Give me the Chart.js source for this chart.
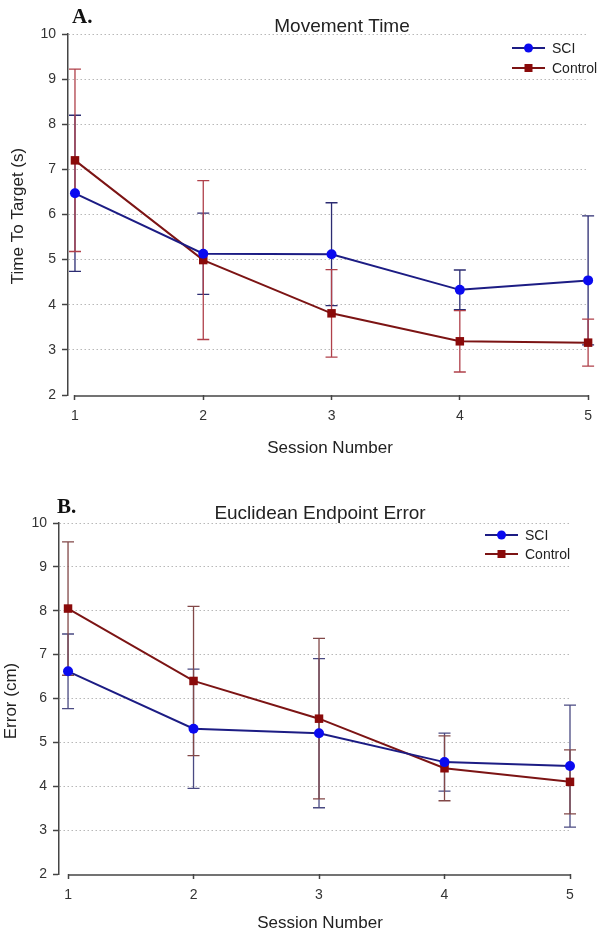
<!DOCTYPE html>
<html>
<head>
<meta charset="utf-8">
<script src="https://cdn.jsdelivr.net/npm/chart.js@4"></script>
<style>
  html, body { margin: 0; padding: 0; background: #fff; }
  #wrapA { position: absolute; left: 0; top: 0; width: 600px; height: 466px; }
  #wrapB { position: absolute; left: 0; top: 466px; width: 600px; height: 467px; }
</style>
</head>
<body>
<div id="wrapA"><canvas id="chartA" width="600" height="466"></canvas></div>
<div id="wrapB"><canvas id="chartB" width="600" height="467"></canvas></div>
<script>
// ---- data ----
const sessions = [1, 2, 3, 4, 5];
const yTickValues = [2, 3, 4, 5, 6, 7, 8, 9, 10];
const seriesNames = ['SCI', 'Control'];

// A. Movement Time (s): mean and error (±)
const timeSCI = [6.47, 5.13, 5.12, 4.33, 4.54];
const timeSCIErr = [1.73, 0.90, 1.14, 0.44, 1.43];
const timeCtrl = [7.20, 4.99, 3.81, 3.19, 3.16];
const timeCtrlErr = [2.02, 1.76, 0.97, 0.68, 0.52];

// B. Euclidean Endpoint Error (cm): mean and error (±)
const errSCI = [6.62, 5.31, 5.21, 4.55, 4.46];
const errSCIErr = [0.85, 1.36, 1.70, 0.66, 1.39];
const errCtrl = [8.05, 6.40, 5.54, 4.41, 4.10];
const errCtrlErr = [1.52, 1.70, 1.83, 0.74, 0.73];

const FONT = '"Liberation Sans", Arial, Helvetica, sans-serif';

function toPoints(vals) { return sessions.map((s, i) => ({ x: s, y: vals[i] })); }

function makeChart(canvasId, cfg) {
  const errorBarPlugin = {
    id: 'errbars',
    beforeDatasetsDraw(chart) {
      const ctx = chart.ctx, xs = chart.scales.x, ys = chart.scales.y;
      ctx.save();
      cfg.errors.forEach((e, di) => {
        ctx.strokeStyle = cfg.errColors[di];
        ctx.lineWidth = 1.3;
        e.mean.forEach((m, i) => {
          const px = xs.getPixelForValue(sessions[i]);
          const yt = ys.getPixelForValue(m + e.err[i]);
          const yb = ys.getPixelForValue(m - e.err[i]);
          ctx.beginPath();
          ctx.moveTo(px, yt); ctx.lineTo(px, yb);
          ctx.moveTo(px - 6, yt); ctx.lineTo(px + 6, yt);
          ctx.moveTo(px - 6, yb); ctx.lineTo(px + 6, yb);
          ctx.stroke();
        });
      });
      ctx.restore();
    },
    afterDraw(chart) {
      const ctx = chart.ctx, xs = chart.scales.x;
      ctx.save();
      // x axis line (detached from y axis, starting at first session)
      ctx.strokeStyle = '#444';
      ctx.lineWidth = 1.5;
      ctx.beginPath();
      const ay = chart.chartArea.bottom + 1;
      ctx.moveTo(xs.getPixelForValue(sessions[0]), ay);
      ctx.lineTo(xs.getPixelForValue(sessions[sessions.length - 1]), ay);
      ctx.stroke();

      // panel letter
      ctx.fillStyle = '#111';
      ctx.textAlign = 'left';
      ctx.textBaseline = 'alphabetic';
      ctx.font = 'bold 21px "Liberation Serif", "Times New Roman", serif';
      ctx.fillText(cfg.letter, cfg.letterPos[0], cfg.letterPos[1]);

      // title
      ctx.fillStyle = '#222';
      ctx.font = '19px ' + FONT;
      ctx.textAlign = 'center';
      ctx.fillText(cfg.title, cfg.titlePos[0], cfg.titlePos[1]);

      // x axis title
      ctx.font = '17px ' + FONT;
      ctx.fillText(cfg.xTitle, cfg.xTitlePos[0], cfg.xTitlePos[1]);

      // y axis title
      ctx.save();
      ctx.translate(cfg.yTitlePos[0], cfg.yTitlePos[1]);
      ctx.rotate(-Math.PI / 2);
      ctx.textBaseline = 'middle';
      ctx.font = '17px ' + FONT;
      ctx.fillText(cfg.yTitle, 0, 0);
      ctx.restore();

      // legend
      const L = cfg.legend;
      chart.data.datasets.forEach((ds, di) => {
        const ly = L.y[di];
        ctx.strokeStyle = ds.borderColor;
        ctx.lineWidth = 2;
        ctx.beginPath();
        ctx.moveTo(L.x0, ly); ctx.lineTo(L.x1, ly);
        ctx.stroke();
        ctx.fillStyle = ds.pointBackgroundColor;
        const mx = (L.x0 + L.x1) / 2;
        if (ds.pointStyle === 'rect') {
          ctx.fillRect(mx - 4, ly - 4, 8, 8);
        } else {
          ctx.beginPath(); ctx.arc(mx, ly, 4.5, 0, Math.PI * 2); ctx.fill();
        }
        ctx.fillStyle = '#222';
        ctx.font = '14px ' + FONT;
        ctx.textAlign = 'left';
        ctx.textBaseline = 'middle';
        ctx.fillText(ds.label, L.tx, ly + 1);
      });
      ctx.restore();
    }
  };

  return new Chart(document.getElementById(canvasId), {
    type: 'line',
    data: {
      datasets: [
        {
          label: seriesNames[0], data: toPoints(cfg.sci),
          borderColor: cfg.lineColors[0], borderWidth: 2,
          pointStyle: 'circle', pointRadius: 5,
          pointBackgroundColor: '#0a0af0', pointBorderColor: '#0a0af0', pointBorderWidth: 0,
          tension: 0, clip: false, order: 1
        },
        {
          label: seriesNames[1], data: toPoints(cfg.ctrl),
          borderColor: cfg.lineColors[1], borderWidth: 2,
          pointStyle: 'rect', pointRadius: 6,
          pointBackgroundColor: '#8a0a0a', pointBorderColor: '#8a0a0a', pointBorderWidth: 0,
          tension: 0, clip: false, order: 2
        }
      ]
    },
    options: {
      responsive: false,
      animation: false,
      events: [],
      layout: { padding: cfg.padding },
      plugins: { legend: { display: false }, title: { display: false }, tooltip: { enabled: false } },
      scales: {
        x: {
          type: 'linear',
          min: cfg.xMin, max: 5,
          afterBuildTicks: (s) => { s.ticks = sessions.map(v => ({ value: v })); },
          afterFit: (s) => { s.height = cfg.xHeight; },
          border: { display: false },
          grid: { drawOnChartArea: false, drawTicks: true, tickLength: 5, tickColor: '#444', tickWidth: 1.5, color: '#444' },
          ticks: { padding: 8, color: '#333', font: { family: FONT, size: 14 }, callback: (v) => String(v) }
        },
        y: {
          type: 'linear',
          min: 2, max: 10,
          afterBuildTicks: (s) => { s.ticks = yTickValues.map(v => ({ value: v })); },
          afterFit: (s) => { s.width = cfg.yWidth; },
          border: { display: true, color: '#444', width: 1.5, dash: [1.5, 2.5] },
          grid: {
            color: (c) => (c.tick && c.tick.value === 2) ? 'rgba(0,0,0,0)' : '#b8b8b8',
            lineWidth: 1, drawTicks: true, tickLength: 6, tickColor: '#444', tickWidth: 1.5
          },
          ticks: { padding: 6, color: '#333', font: { family: FONT, size: 14 }, callback: (v) => String(v) }
        }
      }
    },
    plugins: [errorBarPlugin]
  });
}

makeChart('chartA', {
  sci: timeSCI, ctrl: timeCtrl,
  errors: [{ mean: timeSCI, err: timeSCIErr }, { mean: timeCtrl, err: timeCtrlErr }],
  errColors: ['#2c2c72', '#b0404a'],
  lineColors: ['#1c1c84', '#7c1414'],
  padding: { top: 34, right: 10, left: 0, bottom: 0 },
  xMin: 0.9456, xHeight: 71, yWidth: 68,
  letter: 'A.', letterPos: [72, 23],
  title: 'Movement Time', titlePos: [342, 32],
  xTitle: 'Session Number', xTitlePos: [330, 453],
  yTitle: 'Time To Target (s)', yTitlePos: [18, 216],
  legend: { x0: 512, x1: 545, tx: 552, y: [48, 68] }
});

makeChart('chartB', {
  sci: errSCI, ctrl: errCtrl,
  errors: [{ mean: errSCI, err: errSCIErr }, { mean: errCtrl, err: errCtrlErr }],
  errColors: ['#4a4a82', '#824848'],
  lineColors: ['#1c1c84', '#7c1414'],
  padding: { top: 57, right: 30, left: 0, bottom: 0 },
  xMin: 0.928, xHeight: 59, yWidth: 59,
  letter: 'B.', letterPos: [57, 47],
  title: 'Euclidean Endpoint Error', titlePos: [320, 53],
  xTitle: 'Session Number', xTitlePos: [320, 462],
  yTitle: 'Error (cm)', yTitlePos: [11, 235],
  legend: { x0: 485, x1: 518, tx: 525, y: [69, 88] }
});
</script>
</body>
</html>
